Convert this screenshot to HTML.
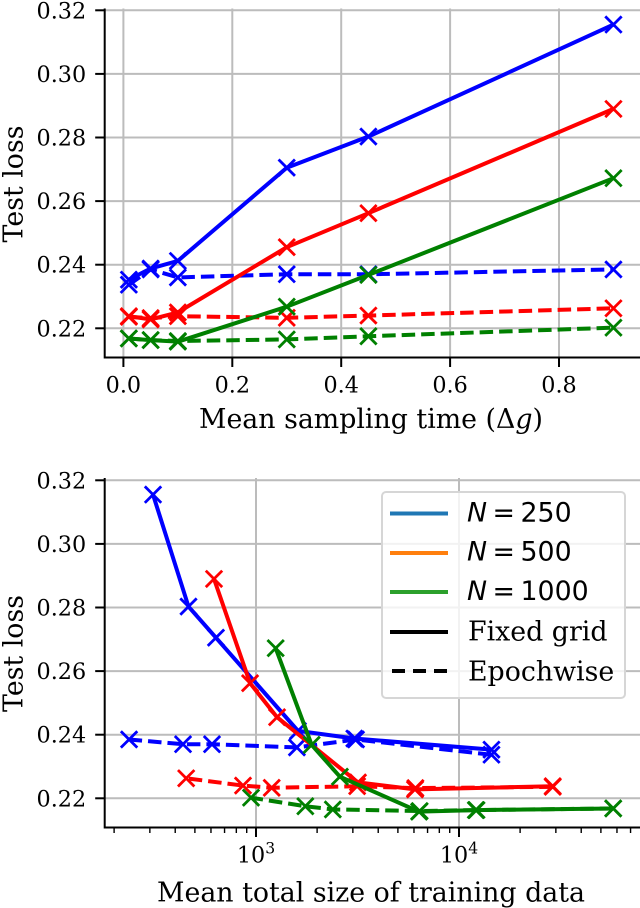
<!DOCTYPE html>
<html lang="en">
<head>
<meta charset="utf-8">
<title>Test loss charts</title>
<style>
html,body{margin:0;padding:0;background:#fff;}
svg{display:block;filter:blur(0.35px);}
text{font-family:"DejaVu Serif","Liberation Serif",serif;fill:#000;}
.sans{font-family:"DejaVu Sans","Liberation Sans",sans-serif;}
</style>
</head>
<body>
<svg id="figure" xmlns="http://www.w3.org/2000/svg" width="640" height="908" viewBox="0 0 640 908">
  <g id="top-chart"></g>
  <g id="bottom-chart"></g>
  <g id="legend">
    <rect x="382" y="492" width="243" height="206" rx="4" fill="#fff" fill-opacity="0.8" stroke="#d6d6d6" stroke-width="2"/>
    <line x1="390" x2="448" y1="513.5" y2="513.5" stroke="#1f77b4" stroke-width="4"/>
    <text class="sans" y="521.7" font-size="26.8"><tspan x="467" font-style="italic">N</tspan><tspan x="492.5">=</tspan><tspan x="520.5">250</tspan></text>
    <line x1="390" x2="448" y1="553" y2="553" stroke="#ff7f0e" stroke-width="4"/>
    <text class="sans" y="560.7" font-size="26.8"><tspan x="467" font-style="italic">N</tspan><tspan x="492.5">=</tspan><tspan x="520.5">500</tspan></text>
    <line x1="390" x2="448" y1="592" y2="592" stroke="#2ca02c" stroke-width="4"/>
    <text class="sans" y="600" font-size="26.8"><tspan x="467" font-style="italic">N</tspan><tspan x="492.5">=</tspan><tspan x="520.5">1000</tspan></text>
    <line x1="390" x2="448" y1="632" y2="632" stroke="#000" stroke-width="4"/>
    <text x="468" y="640.7" font-size="26.8">Fixed grid</text>
    <line x1="392" x2="447" y1="671" y2="671" stroke="#000" stroke-width="4" stroke-dasharray="13,8"/>
    <text x="468" y="680.7" font-size="26.8">Epochwise</text>
  </g>
</svg>
<script>
// ---- shared tick labels ----
const lossTicks = [0.22, 0.24, 0.26, 0.28, 0.30, 0.32];
const timeTicks = [0.0, 0.2, 0.4, 0.6, 0.8];
const sizeMajorTicks = [1000, 10000];
const sizeMinorTicks = [200,300,400,500,600,700,800,900,2000,3000,4000,5000,6000,7000,8000,9000,20000,30000,40000,50000,60000,70000];

// ---- top chart: mean sampling time ----
const samplingTimes = [0.01, 0.05, 0.1, 0.3, 0.45, 0.9];
const fixedLoss250  = [0.2353, 0.2388, 0.2412, 0.2705, 0.2803, 0.3155];
const epochLoss250  = [0.2337, 0.2385, 0.2360, 0.2370, 0.2370, 0.2385];
const fixedLoss500  = [0.2238, 0.2228, 0.2250, 0.2455, 0.2562, 0.2890];
const epochLoss500  = [0.2236, 0.2232, 0.2238, 0.2233, 0.2240, 0.2263];
const fixedLoss1000 = [0.2168, 0.2163, 0.2158, 0.2268, 0.2368, 0.2672];
const epochLoss1000 = [0.2168, 0.2163, 0.2160, 0.2165, 0.2175, 0.2202];

// ---- bottom chart: mean total size of training data ----
const fixedSize250  = [14450, 3050, 1610, 635, 465, 311];
const epochSize250  = [14450, 3110, 1590, 607, 437, 237];
const fixedSize500  = [28950, 6070, 3180, 1270, 935, 621];
const epochSize500  = [28950, 6100, 3150, 1195, 863, 453];
const fixedSize1000 = [57500, 12100, 6360, 2590, 1880, 1250];
const epochSize1000 = [57500, 12200, 6400, 2390, 1750, 945];

const SVG_NS = 'http://www.w3.org/2000/svg';
const BLUE = '#0000ff', RED = '#ff0000', GREEN = '#008000', GRID = '#bcbcbc';

function make(parent, tag, attrs, text) {
  const el = document.createElementNS(SVG_NS, tag);
  for (const k in attrs) el.setAttribute(k, attrs[k]);
  if (text !== undefined) el.textContent = text;
  parent.appendChild(el);
  return el;
}

function drawLoss(g, yOf, xLeft, xRight) {
  lossTicks.forEach(function (v) {
    const y = yOf(v);
    const grid = make(g, 'line', {x1: xLeft, x2: xRight, y1: y, y2: y, stroke: GRID, 'stroke-width': 2});
    
    
  });
}

function drawLossAxis(g, yOf, xLeft, labelY) {
  lossTicks.forEach(function (v) {
    const y = yOf(v);
    const tick = make(g, 'line', {x1: xLeft - 9.5, x2: xLeft, y1: y, y2: y, stroke: '#000', 'stroke-width': 2});
    
    
    const label = make(g, 'text', {x: xLeft - 18.5, y: y + 8, 'text-anchor': 'end', 'font-size': 22.3}, v.toFixed(2));
    
    
  });
  const title = make(g, 'text', {x: 0, y: 0, 'text-anchor': 'middle', 'font-size': 26.8,
    transform: 'translate(22.5,' + labelY + ') rotate(-90)'}, 'Test loss');
  
  
}

function drawSeries(g, xs, ys, xOf, yOf, color, dashed, name) {
  const pts = xs.map(function (x, i) { return xOf(x).toFixed(2) + ',' + yOf(ys[i]).toFixed(2); }).join(' ');
  const attrs = {points: pts, fill: 'none', stroke: color, 'stroke-width': 4, 'stroke-linejoin': 'round'};
  if (dashed) attrs['stroke-dasharray'] = '13.5,6';
  const line = make(g, 'polyline', attrs);
  
  
  xs.forEach(function (x, i) {
    const px = xOf(x), py = yOf(ys[i]), r = 8.2;
    const mark = make(g, 'path', {
      d: 'M' + (px - r) + ' ' + (py - r) + 'L' + (px + r) + ' ' + (py + r) +
         'M' + (px - r) + ' ' + (py + r) + 'L' + (px + r) + ' ' + (py - r),
      stroke: color, 'stroke-width': 2.8, fill: 'none'});
    
    
  });
}

// ---- top chart ----
(function () {
  const g = document.getElementById('top-chart');
  const xOf = function (v) { return 123.4 + v * 544.5; };
  const yOf = function (v) { return 328.3 - (v - 0.22) * 3180; };
  const L = 104.7, R = 640, T = 8.5, B = 357.5;
  drawLoss(g, yOf, L, R);
  timeTicks.forEach(function (v) {
    const x = xOf(v);
    const grid = make(g, 'line', {x1: x, x2: x, y1: T, y2: B, stroke: GRID, 'stroke-width': 2});
    
    
  });
  drawSeries(g, samplingTimes, fixedLoss250, xOf, yOf, BLUE, false, 'fixed-n250');
  drawSeries(g, samplingTimes, epochLoss250, xOf, yOf, BLUE, true, 'epochwise-n250');
  drawSeries(g, samplingTimes, fixedLoss500, xOf, yOf, RED, false, 'fixed-n500');
  drawSeries(g, samplingTimes, epochLoss500, xOf, yOf, RED, true, 'epochwise-n500');
  drawSeries(g, samplingTimes, fixedLoss1000, xOf, yOf, GREEN, false, 'fixed-n1000');
  drawSeries(g, samplingTimes, epochLoss1000, xOf, yOf, GREEN, true, 'epochwise-n1000');
  const spineL = make(g, 'line', {x1: L, x2: L, y1: T, y2: B + 1, stroke: '#000', 'stroke-width': 2});
  
  
  const spineB = make(g, 'line', {x1: L, x2: R, y1: B, y2: B, stroke: '#000', 'stroke-width': 2});
  
  
  timeTicks.forEach(function (v) {
    const x = xOf(v);
    const tick = make(g, 'line', {x1: x, x2: x, y1: B, y2: B + 9.5, stroke: '#000', 'stroke-width': 2});
    
    
    const label = make(g, 'text', {x: x, y: 392.5, 'text-anchor': 'middle', 'font-size': 22.3}, v.toFixed(1));
    
    
  });
  drawLossAxis(g, yOf, L, 184);
  const title = make(g, 'text', {x: 371, y: 428, 'text-anchor': 'middle', 'font-size': 26.8});
  
  
  make(title, 'tspan', {}, 'Mean sampling time (\u0394');
  make(title, 'tspan', {'font-style': 'italic'}, 'g');
  make(title, 'tspan', {}, ')');
})();

// ---- bottom chart ----
(function () {
  const g = document.getElementById('bottom-chart');
  const xOf = function (v) { return 256 + (Math.log10(v) - 3) * 203; };
  const yOf = function (v) { return 798.3 - (v - 0.22) * 3180; };
  const L = 104.7, R = 640, T = 478, B = 827.5;
  drawLoss(g, yOf, L, R);
  sizeMajorTicks.forEach(function (v) {
    const x = xOf(v);
    const grid = make(g, 'line', {x1: x, x2: x, y1: T, y2: B, stroke: GRID, 'stroke-width': 2});
    
    
  });
  drawSeries(g, fixedSize250, fixedLoss250, xOf, yOf, BLUE, false, 'fixed-n250');
  drawSeries(g, epochSize250, epochLoss250, xOf, yOf, BLUE, true, 'epochwise-n250');
  drawSeries(g, fixedSize500, fixedLoss500, xOf, yOf, RED, false, 'fixed-n500');
  drawSeries(g, epochSize500, epochLoss500, xOf, yOf, RED, true, 'epochwise-n500');
  drawSeries(g, fixedSize1000, fixedLoss1000, xOf, yOf, GREEN, false, 'fixed-n1000');
  drawSeries(g, epochSize1000, epochLoss1000, xOf, yOf, GREEN, true, 'epochwise-n1000');
  const spineL = make(g, 'line', {x1: L, x2: L, y1: T, y2: B + 1, stroke: '#000', 'stroke-width': 2});
  
  
  const spineB = make(g, 'line', {x1: L, x2: R, y1: B, y2: B, stroke: '#000', 'stroke-width': 2});
  
  
  sizeMinorTicks.forEach(function (v) {
    const x = xOf(v);
    const tick = make(g, 'line', {x1: x, x2: x, y1: B, y2: B + 5.5, stroke: '#000', 'stroke-width': 1.4});
    
    
  });
  sizeMajorTicks.forEach(function (v) {
    const x = xOf(v);
    const tick = make(g, 'line', {x1: x, x2: x, y1: B, y2: B + 9.5, stroke: '#000', 'stroke-width': 2});
    
    
    const label = make(g, 'text', {x: x, y: 862.7, 'text-anchor': 'middle', 'font-size': 22.3}, '10');
    
    
    make(label, 'tspan', {dy: -9, 'font-size': 15.6}, String(Math.round(Math.log10(v))));
  });
  drawLossAxis(g, yOf, L, 653.5);
  const title = make(g, 'text', {x: 371, y: 901.7, 'text-anchor': 'middle', 'font-size': 26.8}, 'Mean total size of training data');
  
  
})();
</script>
</body>
</html>
